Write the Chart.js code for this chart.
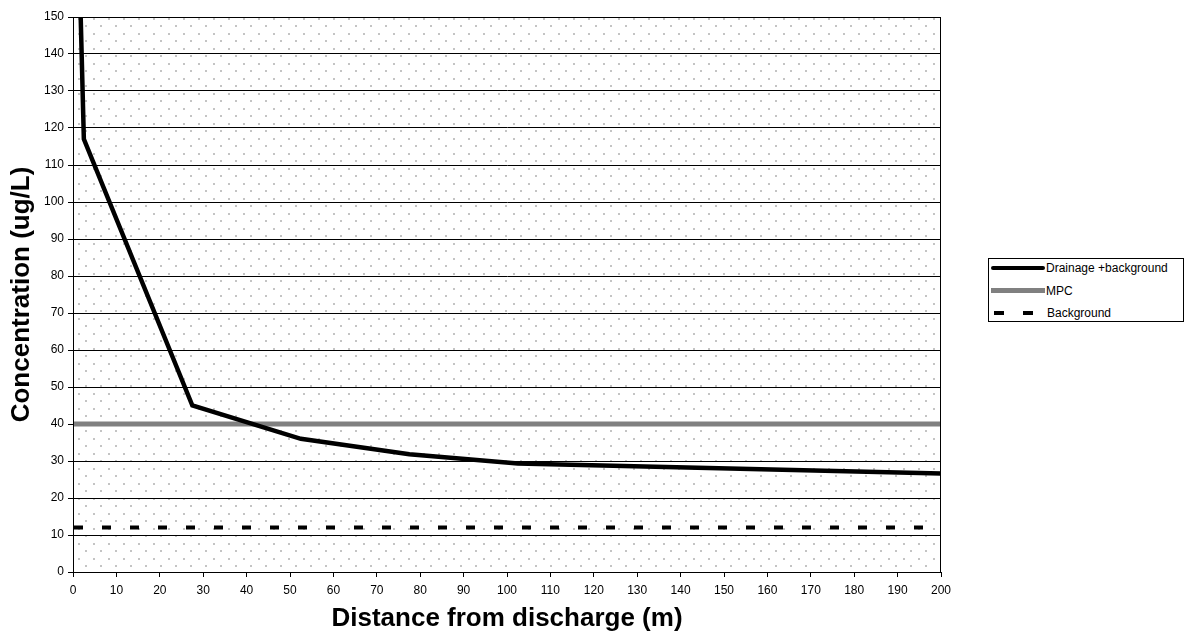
<!DOCTYPE html>
<html>
<head>
<meta charset="utf-8">
<script src="https://cdn.jsdelivr.net/npm/chart.js@4.4.1/dist/chart.umd.min.js"></script>
<style>
  html, body { margin: 0; padding: 0; background: #fff; }
  #wrap { position: relative; width: 1184px; height: 635px; }
  #legend { position: absolute; left: 988px; top: 258px; width: 194px; height: 62px;
            border: 1px solid #000; background: #fff; font: 12px "Liberation Sans", Arial, sans-serif; }
  .row { position: absolute; left: 0; height: 16px; }
  .row span { position: absolute; left: 57px; top: 0; line-height: 16px; white-space: nowrap; }
  .sample { position: absolute; }
</style>
</head>
<body>
<div id="wrap">
  <canvas id="chart" width="1184" height="635"></canvas>
  <div id="legend"></div>
</div>
<script>
// Distance (m) and concentration (ug/L)
const distance = [1, 2.5, 27.5, 52.5, 77.5, 102.5, 200];
const drainage = [185, 117, 45, 36, 31.8, 29.3, 26.6];
const mpcLevel = 40;
const backgroundLevel = 12;
const xTicks = [0, 10, 20, 30, 40, 50, 60, 70, 80, 90, 100, 110, 120, 130, 140, 150, 160, 170, 180, 190, 200];
const yTicks = [0, 10, 20, 30, 40, 50, 60, 70, 80, 90, 100, 110, 120, 130, 140, 150];
const seriesNames = ['Drainage +background', 'MPC', 'Background'];

const font = '"Liberation Sans", Arial, sans-serif';

// dotted plot area fill, like the old spreadsheet pattern
const tile = document.createElement('canvas');
tile.width = 15; tile.height = 15;
const tctx = tile.getContext('2d');
tctx.fillStyle = '#fff';
tctx.fillRect(0, 0, 15, 15);
tctx.fillStyle = '#c4c4c4';
tctx.fillRect(3, 3, 2, 2);
tctx.fillRect(10, 10, 2, 2);

const plotBack = {
  id: 'plotBack',
  beforeDraw(chart) {
    const { ctx, chartArea: a } = chart;
    ctx.save();
    ctx.fillStyle = ctx.createPattern(tile, 'repeat');
    ctx.fillRect(a.left, a.top, a.right - a.left, a.bottom - a.top);
    ctx.restore();
  },
  afterDraw(chart) {
    const { ctx, chartArea: a } = chart;
    ctx.save();
    ctx.strokeStyle = '#000';
    ctx.lineWidth = 1;
    ctx.strokeRect(a.left + 0.5, a.top + 0.5, a.right - a.left - 1, a.bottom - a.top);
    ctx.restore();
  }
};

new Chart(document.getElementById('chart'), {
  type: 'line',
  data: {
    datasets: [
      {
        label: seriesNames[0],
        data: distance.map((d, i) => ({ x: d, y: drainage[i] })),
        borderColor: '#000',
        borderWidth: 4.5,
        pointRadius: 0,
        tension: 0,
        clip: 0
      },
      {
        label: seriesNames[1],
        data: [{ x: xTicks[0], y: mpcLevel }, { x: xTicks[xTicks.length - 1], y: mpcLevel }],
        borderColor: '#808080',
        borderWidth: 5,
        pointRadius: 0
      },
      {
        label: seriesNames[2],
        data: [{ x: xTicks[0], y: backgroundLevel }, { x: xTicks[xTicks.length - 1], y: backgroundLevel }],
        borderColor: '#000',
        borderWidth: 4,
        borderDash: [9, 19],
        borderDashOffset: -1,
        pointRadius: 0
      }
    ]
  },
  options: {
    responsive: false,
    animation: false,
    layout: { padding: { top: 17, right: 243, left: 0, bottom: 0 } },
    plugins: { legend: { display: false }, tooltip: { enabled: false } },
    scales: {
      x: {
        type: 'linear',
        min: 0, max: 200,
        afterBuildTicks: s => { s.ticks = xTicks.map(v => ({ value: v })); },
        afterFit: s => { s.height = 63; },
        border: { color: '#000', width: 1 },
        grid: { drawOnChartArea: false, drawTicks: true, tickLength: 5, color: '#000' },
        ticks: { color: '#000', font: { family: font, size: 12 }, maxRotation: 0, autoSkip: false, padding: 6 },
        title: { display: true, text: 'Distance from discharge (m)', color: '#000',
                 font: { family: font, size: 26, weight: 'bold' }, padding: { top: 0, bottom: 1 } }
      },
      y: {
        min: 0, max: 150,
        afterBuildTicks: s => { s.ticks = yTicks.map(v => ({ value: v })); },
        afterFit: s => { s.width = 73; },
        border: { color: '#000', width: 1 },
        grid: { color: '#000', lineWidth: 1, drawTicks: true, tickLength: 5 },
        ticks: { color: '#000', font: { family: font, size: 12 }, autoSkip: false, padding: 4 },
        title: { display: true, text: 'Concentration (ug/L)', color: '#000',
                 font: { family: font, size: 26, weight: 'bold' }, padding: { top: 6, bottom: 0 } }
      }
    }
  },
  plugins: [plotBack]
});

// legend box drawn as HTML
const legend = document.getElementById('legend');
const rowTops = [1, 24, 46];
const samples = [
  '<div class="sample" style="left:2px;top:6px;width:54px;height:4px;background:#000;border-radius:2px"></div>',
  '<div class="sample" style="left:2px;top:5px;width:54px;height:5px;background:#808080"></div>',
  '<div class="sample" style="left:5px;top:6px;width:10px;height:4px;background:#000"></div>' +
  '<div class="sample" style="left:34px;top:6px;width:10px;height:4px;background:#000"></div>'
];
seriesNames.forEach((name, i) => {
  const row = document.createElement('div');
  row.className = 'row';
  row.style.top = rowTops[i] + 'px';
  row.style.width = '194px';
  row.innerHTML = samples[i] + '<span' + (i === 2 ? ' style="left:58px"' : '') + '>' + name + '</span>';
  legend.appendChild(row);
});
</script>
</body>
</html>
